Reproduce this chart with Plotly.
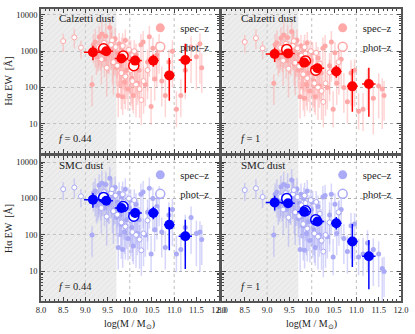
import plotly.graph_objects as go
from plotly.subplots import make_subplots

# ---- data ----
mass_limit = 9.7

spec_mass = [9.15, 9.18, 9.22, 9.25, 9.28, 9.31, 9.34, 9.37, 9.40, 9.43,
             9.46, 9.49, 9.52, 9.55, 9.58, 9.61, 9.64, 9.67, 9.70, 9.72,
             9.74, 9.76, 9.78, 9.80, 9.82, 9.84, 9.86, 9.88, 9.90, 9.93,
             9.96, 9.99, 10.02, 10.05, 10.08, 10.11, 10.14, 10.17, 10.21, 10.25,
             10.30, 10.35, 10.40, 10.44, 10.48, 10.52, 10.56, 10.61, 10.66, 10.72,
             10.80, 10.88, 10.96, 11.05, 11.15, 11.25, 11.38, 11.50, 11.58, 11.62]
spec_err_up = [0.25, 0.3, 0.35, 0.3, 0.25, 0.3, 0.4, 0.35, 0.3, 0.3,
               0.35, 0.3, 0.25, 0.3, 0.35, 0.4, 0.3, 0.3, 0.35, 0.3,
               0.4, 0.3, 0.35, 0.4, 0.3, 0.45, 0.35, 0.4, 0.3, 0.35,
               0.4, 0.3, 0.3, 0.4, 0.45, 0.35, 0.3, 0.4, 0.35, 0.3,
               0.3, 0.4, 0.35, 0.3, 0.5, 0.3, 0.4, 0.35, 0.3, 0.4,
               0.45, 0.35, 0.3, 0.5, 0.45, 0.35, 0.3, 0.35, 0.3, 0.4]
spec_err_dn = [0.6, 0.5, 0.7, 0.5, 0.6, 0.8, 0.5, 0.9, 0.6, 0.5,
               0.8, 0.6, 0.5, 0.9, 0.7, 0.6, 0.8, 1.0, 0.5, 0.7,
               0.6, 1.2, 0.6, 0.7, 1.1, 0.5, 0.9, 0.6, 1.4, 0.8,
               0.6, 1.0, 1.2, 0.7, 0.5, 0.9, 1.1, 0.6, 0.8, 1.3,
               1.0, 0.6, 0.8, 1.1, 0.5, 0.9, 0.6, 0.9, 0.8, 0.7,
               0.6, 0.9, 1.0, 0.5, 0.6, 0.8, 1.0, 0.9, 1.1, 0.7]

phot_mass = [8.50, 8.75, 8.90, 9.30, 9.36, 9.42, 9.48, 9.53, 9.58, 9.63,
             9.68, 9.72, 9.77, 9.81, 9.86, 9.90, 9.94, 9.98, 10.02, 10.06,
             10.10, 10.14, 10.18, 10.22, 10.26, 10.31, 10.40, 10.60, 9.60, 9.84]
phot_err_up = [0.2, 0.25, 0.2, 0.3, 0.35, 0.3, 0.4, 0.3, 0.35, 0.4,
               0.3, 0.4, 0.35, 0.45, 0.3, 0.4, 0.35, 0.3, 0.4, 0.45,
               0.3, 0.45, 0.35, 0.4, 0.5, 0.4, 0.35, 0.3, 0.3, 0.35]
phot_err_dn = [0.3, 0.3, 0.3, 0.6, 0.7, 0.5, 0.8, 0.6, 0.7, 0.9,
               0.6, 0.8, 0.9, 1.0, 0.7, 0.9, 0.8, 0.6, 1.0, 0.8,
               0.7, 0.9, 1.0, 0.8, 0.7, 0.9, 0.8, 0.6, 0.7, 0.9]

calz044_spec_ew = [120, 1500, 1800, 700, 1100, 2500, 900, 3000, 1400, 600,
                   2600, 1000, 800, 4500, 1700, 500, 1300, 2200, 350, 900,
                   60, 1600, 400, 250, 1200, 55, 700, 140, 2000, 300,
                   90, 650, 1000, 180, 60, 400, 800, 130, 300, 1500,
                   1800, 120, 500, 2500, 30, 1200, 170, 800, 1500, 150,
                   60, 500, 1000, 25, 60, 300, 1300, 700, 1600, 350]
calz1_spec_ew = [130, 1500, 1700, 650, 1000, 2300, 850, 2800, 1300, 550,
                 2400, 950, 750, 3500, 1600, 450, 1200, 2000, 300, 800,
                 55, 1400, 350, 220, 1000, 50, 600, 120, 1700, 250,
                 80, 550, 900, 150, 55, 350, 650, 110, 250, 1200,
                 1400, 100, 400, 1800, 25, 900, 130, 500, 600, 100,
                 40, 250, 300, 22, 25, 150, 50, 110, 90, 60]
smc044_spec_ew = [100, 1400, 1600, 650, 950, 2300, 800, 2600, 1300, 550,
                  2400, 900, 700, 3600, 1500, 450, 1200, 2000, 300, 800,
                  45, 1400, 350, 200, 1100, 40, 600, 120, 1800, 260,
                  80, 550, 900, 160, 50, 350, 700, 110, 260, 1300,
                  1500, 100, 420, 1900, 30, 1000, 140, 600, 1100, 120,
                  45, 350, 500, 30, 40, 160, 300, 110, 120, 75]
smc1_spec_ew = [100, 1300, 1500, 600, 900, 2100, 750, 2400, 1200, 500,
                2200, 850, 650, 3200, 1400, 420, 1100, 1800, 280, 750,
                40, 1300, 320, 180, 1000, 38, 550, 110, 1600, 230,
                70, 500, 800, 140, 45, 300, 600, 100, 230, 1100,
                1200, 90, 350, 1300, 25, 700, 110, 400, 500, 80,
                35, 180, 200, 25, 30, 60, 40, 30, 12, 10]

calz044_phot_ew = [1900, 2400, 1250, 1300, 600, 1700, 350, 900, 1500, 500,
                   1300, 400, 800, 250, 900, 200, 700, 1100, 300, 150,
                   1000, 120, 500, 90, 45, 150, 300, 600, 2000, 1400]
calz1_phot_ew = [1800, 2300, 1200, 1250, 550, 1600, 330, 850, 1400, 480,
                 1200, 380, 750, 230, 850, 180, 650, 1000, 270, 130,
                 900, 100, 450, 80, 40, 130, 260, 500, 1900, 1300]
smc044_phot_ew = [1800, 2000, 1150, 1200, 550, 1500, 320, 800, 1400, 450,
                  1200, 360, 700, 220, 800, 170, 600, 1000, 260, 120,
                  900, 100, 420, 75, 38, 110, 250, 480, 1800, 1300]
smc1_phot_ew = [1700, 1900, 1100, 1100, 500, 1400, 300, 750, 1300, 420,
                1100, 330, 650, 200, 750, 150, 550, 900, 240, 110,
                800, 90, 380, 70, 35, 100, 220, 420, 1700, 1200]

# binned medians
calz044_bin_mass = [9.17, 9.47, 9.81, 10.12, 10.53, 10.89, 11.25]
calz044_bin_ew = [935, 1000, 630, 550, 550, 215, 570]
calz1_bin_mass = [9.17, 9.47, 9.83, 10.13, 10.55, 10.91, 11.28]
calz1_bin_ew = [840, 870, 485, 340, 275, 107, 124]
smc044_bin_mass = [9.17, 9.47, 9.81, 10.12, 10.53, 10.89, 11.25]
smc044_bin_ew = [930, 870, 550, 400, 400, 190, 92]
smc1_bin_mass = [9.17, 9.47, 9.83, 10.13, 10.55, 10.91, 11.28]
smc1_bin_ew = [780, 740, 435, 235, 210, 66, 26]
bin_mass_err = [0.2, 0.15, 0.15, 0.15, 0.12, 0.12, 0.15]
bin_err_up = [0.18, 0.12, 0.1, 0.12, 0.17, 0.48, 0.45]
bin_err_dn = [0.22, 0.12, 0.1, 0.12, 0.17, 0.7, 0.9]

calz044_pbin_mass = [9.41, 9.85, 10.09]
calz044_pbin_ew = [1170, 740, 400]
calz1_pbin_mass = [9.44, 9.86, 10.09]
calz1_pbin_ew = [1120, 540, 300]
smc044_pbin_mass = [9.41, 9.85, 10.09]
smc044_pbin_ew = [1070, 600, 325]
smc1_pbin_mass = [9.44, 9.86, 10.09]
smc1_pbin_ew = [1000, 460, 260]
pbin_mass_err = [0.1, 0.08, 0.12]
pbin_err_up = [0.08, 0.08, 0.1]
pbin_err_dn = [0.08, 0.08, 0.1]

FONT = "Liberation Serif"
RED = dict(light="#ffa8a8", err="rgba(255,160,160,0.45)", dark="#ff0000")
BLUE = dict(light="#aaaaf6", err="rgba(165,165,245,0.45)", dark="#0000ff")

X_DOM = {1: [0, 0.4933], 2: [0.504, 1]}
Y_DOM = {1: [0.5068, 1], 2: [0, 0.4966]}


def err_arrays(ew, up, dn):
    plus = [e * (10 ** u - 1) for e, u in zip(ew, up)]
    minus = [e * (1 - 10 ** (-d)) for e, d in zip(ew, dn)]
    return plus, minus


fig = make_subplots(rows=2, cols=2, horizontal_spacing=0.01, vertical_spacing=0.01)

panels = [
    (1, 1, "Calzetti dust", "0.44", RED, calz044_spec_ew, calz044_phot_ew,
     calz044_bin_mass, calz044_bin_ew, calz044_pbin_mass, calz044_pbin_ew),
    (1, 2, "Calzetti dust", "1", RED, calz1_spec_ew, calz1_phot_ew,
     calz1_bin_mass, calz1_bin_ew, calz1_pbin_mass, calz1_pbin_ew),
    (2, 1, "SMC dust", "0.44", BLUE, smc044_spec_ew, smc044_phot_ew,
     smc044_bin_mass, smc044_bin_ew, smc044_pbin_mass, smc044_pbin_ew),
    (2, 2, "SMC dust", "1", BLUE, smc1_spec_ew, smc1_phot_ew,
     smc1_bin_mass, smc1_bin_ew, smc1_pbin_mass, smc1_pbin_ew),
]

for i, (row, col, label, f, c, s_ew, p_ew, b_m, b_ew, pb_m, pb_ew) in enumerate(panels):
    leg = "legend" if i == 0 else "legend%d" % (i + 1)

    # shaded incompleteness region
    fig.add_trace(go.Scatter(
        x=[8, mass_limit, mass_limit, 8], y=[1, 1, 30000, 30000],
        fill="toself", mode="none", hoverinfo="skip", showlegend=False,
        fillcolor="rgba(0,0,0,0)",
        fillpattern=dict(shape="/", size=4, solidity=0.15,
                         bgcolor="rgba(215,215,215,0.45)", fgcolor="#c8c8c8"),
    ), row=row, col=col)

    sp, sm = err_arrays(s_ew, spec_err_up, spec_err_dn)
    fig.add_trace(go.Scatter(
        x=spec_mass, y=s_ew, mode="markers", showlegend=False,
        marker=dict(size=5, color=c["light"]),
        error_y=dict(type="data", array=sp, arrayminus=sm, color=c["err"],
                     thickness=1.5, width=0),
    ), row=row, col=col)

    pp, pm = err_arrays(p_ew, phot_err_up, phot_err_dn)
    fig.add_trace(go.Scatter(
        x=phot_mass, y=p_ew, mode="markers", showlegend=False,
        marker=dict(size=5, color="white", line=dict(color=c["light"], width=1)),
        error_y=dict(type="data", array=pp, arrayminus=pm, color=c["err"],
                     thickness=1.5, width=0),
    ), row=row, col=col)

    bp, bm = err_arrays(pb_ew, pbin_err_up, pbin_err_dn)
    fig.add_trace(go.Scatter(
        x=pb_m, y=pb_ew, mode="markers", showlegend=False,
        marker=dict(size=10, color="white", line=dict(color=c["dark"], width=1.5)),
        error_x=dict(type="data", array=pbin_mass_err, color=c["dark"], thickness=1.5, width=0),
        error_y=dict(type="data", array=bp, arrayminus=bm, color=c["dark"],
                     thickness=1.5, width=0),
    ), row=row, col=col)

    bp, bm = err_arrays(b_ew, bin_err_up, bin_err_dn)
    fig.add_trace(go.Scatter(
        x=b_m, y=b_ew, mode="markers", showlegend=False,
        marker=dict(size=10, color=c["dark"]),
        error_x=dict(type="data", array=bin_mass_err, color=c["dark"], thickness=1.5, width=0),
        error_y=dict(type="data", array=bp, arrayminus=bm, color=c["dark"],
                     thickness=1.5, width=0),
    ), row=row, col=col)

    # legend-only entries
    fig.add_trace(go.Scatter(x=[None], y=[None], mode="markers", name="spec\u2013z",
                             legend=leg, marker=dict(size=9, color=c["light"])),
                  row=row, col=col)
    fig.add_trace(go.Scatter(x=[None], y=[None], mode="markers", name="phot\u2013z",
                             legend=leg,
                             marker=dict(size=9, color="white",
                                         line=dict(color=c["light"], width=1.5))),
                  row=row, col=col)

    for g in [9, 10, 11]:
        fig.add_vline(x=g, line=dict(color="#b0b0b0", width=0.8, dash="dot"),
                      layer="below", row=row, col=col)

    n = "" if i == 0 else str(i + 1)
    fig.add_annotation(xref="x%s domain" % n, yref="y%s domain" % n, x=0.09, y=0.94,
                       text=label, showarrow=False, xanchor="left", yanchor="middle",
                       font=dict(family=FONT, size=11, color="#222"))
    fig.add_annotation(xref="x%s domain" % n, yref="y%s domain" % n, x=0.09, y=0.1,
                       text="<i>f</i> = " + f, showarrow=False, xanchor="left",
                       yanchor="middle", font=dict(family=FONT, size=10.5, color="#222"))

    dx, dy = X_DOM[col], Y_DOM[row]
    fig.layout[leg] = dict(
        x=dx[1] - 0.012,
        y=dy[0] + 0.97 * (dy[1] - dy[0]),
        xanchor="right", yanchor="top", bgcolor="rgba(0,0,0,0)",
        font=dict(family=FONT, size=10.5, color="#222"),
        itemwidth=30, tracegroupgap=0)

    if row == 2:
        fig.add_annotation(xref="paper", yref="paper", x=(dx[0] + dx[1]) / 2, y=-0.082,
                           text="log(M / M<sub>\u2299</sub>)", showarrow=False,
                           xanchor="center", yanchor="middle",
                           font=dict(family=FONT, size=10, color="#222"))

axis_line = dict(showline=True, linecolor="#555", linewidth=1.5, mirror="allticks",
                 ticks="inside", tickcolor="#444", zeroline=False)

for row in [1, 2]:
    for col in [1, 2]:
        fig.update_xaxes(
            range=[8, 12], dtick=0.5, tick0=8, ticklen=4, tickformat=".1f",
            showgrid=False, showticklabels=(row == 2),
            minor=dict(dtick=0.1, ticklen=2, ticks="inside", tickcolor="#444"),
            tickfont=dict(family=FONT, size=8.5, color="#222"),
            domain=X_DOM[col],
            row=row, col=col, **axis_line)
        fig.update_yaxes(
            type="log", range=[0.19, 4.165],
            tickvals=[10, 100, 1000, 10000], ticktext=["10", "100", "1000", "10000"],
            ticklen=4, showgrid=True, gridcolor="#b0b0b0", griddash="dot", gridwidth=0.8,
            minor=dict(ticks="inside", ticklen=2, dtick="D1", tickcolor="#444"),
            showticklabels=(col == 1),
            tickfont=dict(family=FONT, size=8.5, color="#222"),
            domain=Y_DOM[row],
            row=row, col=col, **axis_line)
        if col == 1:
            fig.update_yaxes(title=dict(text="H\u03b1 EW  [\u00c5]", standoff=2,
                                        font=dict(family=FONT, size=10, color="#222")),
                             row=row, col=col)

fig.update_layout(
    width=415, height=334,
    margin=dict(l=37, r=7, t=7, b=33),
    paper_bgcolor="white", plot_bgcolor="white",
    font=dict(family=FONT, color="#222"),
)

# drop the default page margin so the figure sits at the window's corner
fig.write_html("out.html", config={"displayModeBar": False},
               post_script="document.body.style.margin='0';")
